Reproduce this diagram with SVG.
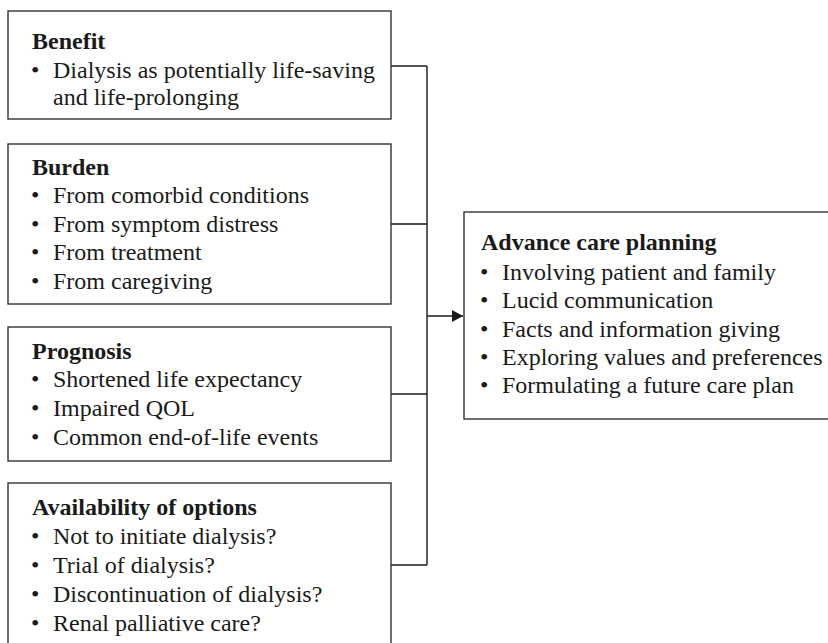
<svg xmlns="http://www.w3.org/2000/svg" width="828" height="643" viewBox="0 0 828 643">
<style>
.box{fill:#fff;stroke:#333;stroke-width:1.4}
.t{font-family:"Liberation Serif","Times New Roman",serif;font-size:24px;fill:#1a1a1a}
.h{font-weight:bold}
.conn{fill:none;stroke:#1a1a1a;stroke-width:1.4}
</style>
<defs>
<marker id="arr" viewBox="0 0 11 12" refX="11" refY="6" markerWidth="11" markerHeight="12" markerUnits="userSpaceOnUse" orient="auto">
<path d="M0,0 L11,6 L0,12 Z" fill="#1a1a1a"/>
</marker>
</defs>
<rect width="828" height="643" fill="#fff"/>
<g id="connectors">
<path class="conn" d="M391,66 H427 M391,224 H427 M391,394 H427 M391,565 H427 M427,66 V565"/>
<path class="conn" d="M427,316 H463" marker-end="url(#arr)"/>
</g>
<g id="benefit">
<rect class="box" x="8" y="11" width="383" height="108"/>
<text class="t h" x="32" y="49">Benefit</text>
<text class="t" x="31" y="78">•</text><text class="t" x="53" y="78">Dialysis as potentially life-saving</text>
<text class="t" x="53" y="105">and life-prolonging</text>
</g>
<g id="burden">
<rect class="box" x="8" y="144" width="383" height="160"/>
<text class="t h" x="32" y="175">Burden</text>
<text class="t" x="31" y="203">•</text><text class="t" x="53" y="203">From comorbid conditions</text>
<text class="t" x="31" y="232">•</text><text class="t" x="53" y="232">From symptom distress</text>
<text class="t" x="31" y="260">•</text><text class="t" x="53" y="260">From treatment</text>
<text class="t" x="31" y="289">•</text><text class="t" x="53" y="289">From caregiving</text>
</g>
<g id="prognosis">
<rect class="box" x="8" y="327" width="383" height="134"/>
<text class="t h" x="32" y="359">Prognosis</text>
<text class="t" x="31" y="387">•</text><text class="t" x="53" y="387">Shortened life expectancy</text>
<text class="t" x="31" y="416">•</text><text class="t" x="53" y="416">Impaired QOL</text>
<text class="t" x="31" y="445">•</text><text class="t" x="53" y="445">Common end-of-life events</text>
</g>
<g id="availability">
<rect class="box" x="8" y="483" width="383" height="180"/>
<text class="t h" x="32" y="515">Availability of options</text>
<text class="t" x="31" y="544">•</text><text class="t" x="53" y="544">Not to initiate dialysis?</text>
<text class="t" x="31" y="573">•</text><text class="t" x="53" y="573">Trial of dialysis?</text>
<text class="t" x="31" y="602">•</text><text class="t" x="53" y="602">Discontinuation of dialysis?</text>
<text class="t" x="31" y="631">•</text><text class="t" x="53" y="631">Renal palliative care?</text>
</g>
<g id="advance-care-planning">
<rect class="box" x="464" y="212" width="400" height="207"/>
<text class="t h" x="481" y="250">Advance care planning</text>
<text class="t" x="480" y="280">•</text><text class="t" x="502" y="280">Involving patient and family</text>
<text class="t" x="480" y="308">•</text><text class="t" x="502" y="308">Lucid communication</text>
<text class="t" x="480" y="337">•</text><text class="t" x="502" y="337">Facts and information giving</text>
<text class="t" x="480" y="365">•</text><text class="t" x="502" y="365">Exploring values and preferences</text>
<text class="t" x="480" y="393">•</text><text class="t" x="502" y="393">Formulating a future care plan</text>
</g>
</svg>
